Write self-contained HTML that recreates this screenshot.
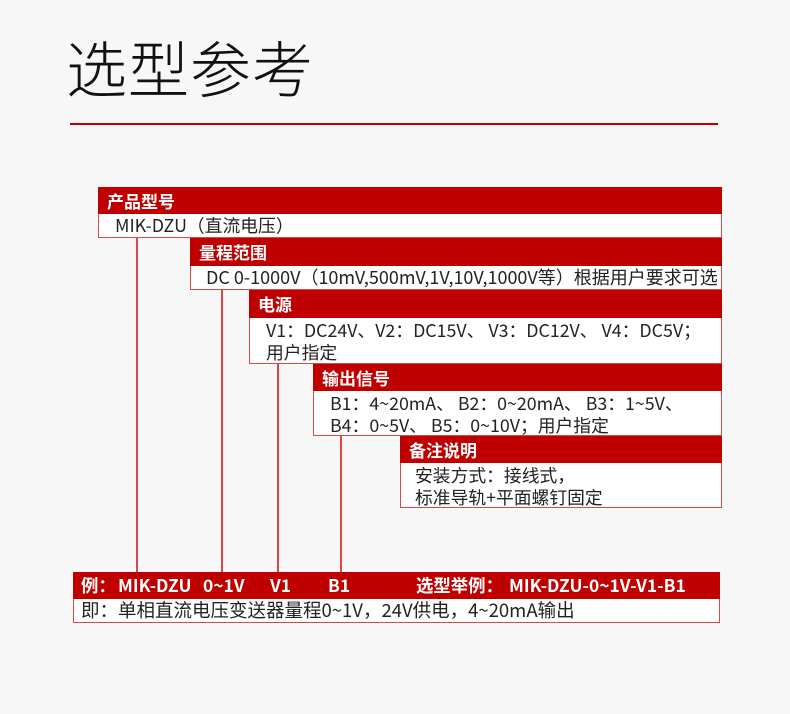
<!DOCTYPE html>
<html><head><meta charset="utf-8"><style>
*{margin:0;padding:0;box-sizing:border-box}
body{width:790px;height:714px;background:#f7f7f7;position:relative;overflow:hidden;font-family:"Liberation Sans","Noto Sans CJK SC",sans-serif;color:#222}
.t{position:absolute;left:66px;top:26px;font-size:61px;font-weight:300;letter-spacing:1px;color:#111;font-family:"Noto Sans CJK SC",sans-serif;line-height:80px}
.rl{position:absolute;left:70px;top:123px;width:648px;height:2px;background:#c00000}
.h{position:absolute;background:#c00000;color:#fff;font-weight:bold;font-size:17px;padding-left:9px;line-height:27px;font-family:"Noto Sans CJK SC",sans-serif;white-space:nowrap}
.w{position:absolute;background:#fff;border:1px solid #d84a4a;border-top:none;font-size:17.8px;padding-left:16px;line-height:22px;font-family:"Noto Sans CJK SC",sans-serif;white-space:nowrap}
.v{position:absolute;width:2px;background:#d84a4a}
.s{position:absolute;top:0}
</style></head><body>
<div class="t">选型参考</div>
<div class="rl"></div>

<div class="h" style="left:98px;top:187px;width:624px;height:27px">产品型号</div>
<div class="w" style="left:98px;top:214px;width:624px;height:24px;line-height:23px">MIK-DZU（直流电压）</div>

<div class="h" style="left:190px;top:238px;width:532px;height:28px">量程范围</div>
<div class="w" style="left:190px;top:266px;width:532px;height:24px;padding-left:15px;line-height:23px;font-size:18px">DC 0-1000V（10mV,500mV,1V,10V,1000V等）根据用户要求可选</div>

<div class="h" style="left:249px;top:290px;width:473px;height:28px">电源</div>
<div class="w" style="left:249px;top:318px;width:473px;height:46px;padding-left:16px;padding-top:1px">V1：DC24V、V2：DC15V、 V3：DC12V、 V4：DC5V；<br>用户指定</div>

<div class="h" style="left:313px;top:364px;width:409px;height:27px">输出信号</div>
<div class="w" style="left:313px;top:391px;width:409px;height:45px;padding-left:16px;padding-top:1px">B1：4~20mA、 B2：0~20mA、 B3：1~5V、<br>B4：0~5V、 B5：0~10V；用户指定</div>

<div class="h" style="left:400px;top:436px;width:322px;height:27px">备注说明</div>
<div class="w" style="left:400px;top:463px;width:322px;height:45px;padding-left:14px;padding-top:1px">安装方式：接线式，<br>标准导轨+平面螺钉固定</div>

<div class="v" style="left:136px;top:238px;height:334px"></div>
<div class="v" style="left:221px;top:290px;height:282px"></div>
<div class="v" style="left:277px;top:364px;height:208px"></div>
<div class="v" style="left:340px;top:436px;height:136px"></div>

<div class="h" style="left:73px;top:572px;width:647px;height:27px;padding:0;font-size:17.4px">
<span class="s" style="left:8px">例：</span>
<span class="s" style="left:45px">MIK-DZU</span>
<span class="s" style="left:130px">0~1V</span>
<span class="s" style="left:197px">V1</span>
<span class="s" style="left:255px">B1</span>
<span class="s" style="left:343px">选型举例：</span>
<span class="s" style="left:436px">MIK-DZU-0~1V-V1-B1</span>
</div>
<div class="w" style="left:73px;top:599px;width:647px;height:24px;padding-left:7px;line-height:22px;font-size:18.5px">即：单相直流电压变送器量程0~1V，24V供电，4~20mA输出</div>
</body></html>
